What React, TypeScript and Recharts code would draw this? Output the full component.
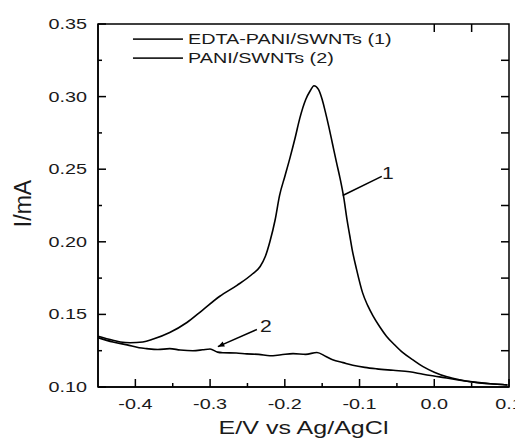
import { LineChart, Line, XAxis, YAxis, ReferenceLine, ReferenceDot, ReferenceArea } from "recharts";

// curve 1: EDTA-PANI/SWNTs
const E1 = [-0.45, -0.43, -0.42, -0.407, -0.39, -0.376, -0.354, -0.331, -0.31, -0.287, -0.264, -0.243, -0.233, -0.226, -0.22, -0.213, -0.207, -0.2, -0.193, -0.186, -0.18, -0.172, -0.166, -0.161, -0.155, -0.15, -0.146, -0.141, -0.136, -0.131, -0.126, -0.121, -0.117, -0.113, -0.11, -0.104, -0.096, -0.089, -0.082, -0.073, -0.064, -0.053, -0.042, -0.028, -0.015, 0.0, 0.017, 0.034, 0.051, 0.075, 0.098];
const I1 = [0.135, 0.1322, 0.131, 0.1305, 0.131, 0.133, 0.1375, 0.1444, 0.153, 0.1625, 0.17, 0.178, 0.183, 0.19, 0.2, 0.215, 0.232, 0.245, 0.258, 0.272, 0.285, 0.298, 0.304, 0.3075, 0.305, 0.298, 0.29, 0.279, 0.267, 0.255, 0.2435, 0.23, 0.216, 0.204, 0.195, 0.181, 0.165, 0.156, 0.149, 0.1415, 0.135, 0.129, 0.1236, 0.1185, 0.114, 0.1102, 0.107, 0.105, 0.1035, 0.1022, 0.1014];

// curve 2: PANI/SWNTs
const E2 = [-0.45, -0.43, -0.411, -0.395, -0.385, -0.37, -0.354, -0.34, -0.323, -0.31, -0.3, -0.29, -0.283, -0.265, -0.251, -0.235, -0.22, -0.205, -0.189, -0.172, -0.157, -0.145, -0.136, -0.122, -0.109, -0.093, -0.077, -0.055, -0.033, -0.015, 0.007, 0.03, 0.051, 0.075, 0.098];
const I2 = [0.134, 0.131, 0.129, 0.127, 0.1264, 0.1258, 0.1264, 0.1255, 0.125, 0.1256, 0.1262, 0.124, 0.1236, 0.1234, 0.1228, 0.1225, 0.1215, 0.1222, 0.123, 0.1225, 0.1238, 0.121, 0.1188, 0.1168, 0.115, 0.1135, 0.1125, 0.1115, 0.1105, 0.1088, 0.107, 0.105, 0.1035, 0.1022, 0.1014];

const X_MAJOR = [-0.4, -0.3, -0.2, -0.1, 0.0, 0.1];
const X_MINOR = [-0.35, -0.25, -0.15, -0.05, 0.05];
const Y_MAJOR = [0.1, 0.15, 0.2, 0.25, 0.3, 0.35];
const Y_MINOR = [0.125, 0.175, 0.225, 0.275, 0.325];
const Y_RIGHT = [0.125, 0.15, 0.175, 0.2, 0.225, 0.25, 0.275, 0.3, 0.325];
const X_TOP = [0.0, 0.05];

const SERIES = ["EDTA-PANI/SWNTs (1)", "PANI/SWNTs (2)"];

const X_MIN = -0.45, X_MAX = 0.1, Y_MIN = 0.1, Y_MAX = 0.35;

const data1 = E1.map((e, i) => ({ e, i: I1[i] }));
const data2 = E2.map((e, i) => ({ e, i: I2[i] }));

const FONT = '"Liberation Sans", Arial, sans-serif';
const INK = "#1a1a1a";
const SW = 1.5;
const STRETCH = 1.32;

// the source figure's text is stretched sideways
const Txt = ({ x, y, anchor = "start", size = 15, children }: any) => (
  <text
    transform={`translate(${x},${y}) scale(${STRETCH},1)`}
    textAnchor={anchor}
    fontSize={size}
    fontFamily={FONT}
    fill={INK}
  >
    {children}
  </text>
);

const XLabel = ({ x, y, payload }: any) => (
  <Txt x={x} y={y + 22} anchor="middle">{payload.value.toFixed(1)}</Txt>
);

const YLabel = ({ x, y, payload }: any) => (
  <Txt x={x - 11} y={y + 5} anchor="end">{payload.value.toFixed(2)}</Txt>
);

// plot frame as one closed path
const Frame = (p: any) => {
  const { x, y, width, height } = p;
  return (
    <path
      d={`M${x},${y}H${x + width}V${y + height}H${x}Z`}
      fill="none"
      stroke="#000"
      strokeWidth={SW}
    />
  );
};

// tick marks drawn inward from the frame
const tickShape = (side: string, len: number) => (p: any) => {
  const { x1, y1, x2, y2 } = p;
  let d = "";
  if (side === "bottom") {
    const y = Math.max(y1, y2);
    d = `M${x1},${y}V${y - len}`;
  } else if (side === "top") {
    const y = Math.min(y1, y2);
    d = `M${x1},${y}V${y + len}`;
  } else if (side === "left") {
    const x = Math.min(x1, x2);
    d = `M${x},${y1}H${x + len}`;
  } else {
    const x = Math.max(x1, x2);
    d = `M${x},${y1}H${x - len}`;
  }
  return <path d={d} stroke="#000" strokeWidth={SW} fill="none" />;
};

const Pointer = (head: boolean) => (p: any) => {
  const { x1, y1, x2, y2 } = p;
  const a = Math.atan2(y2 - y1, x2 - x1);
  const L = 7;
  return (
    <g>
      <line x1={x1} y1={y1} x2={x2} y2={y2} stroke="#000" strokeWidth={1.5} />
      {head && (
        <polygon
          points={`${x2},${y2} ${x2 - L * Math.cos(a - 0.4)},${y2 - L * Math.sin(a - 0.4)} ${x2 - L * Math.cos(a + 0.4)},${y2 - L * Math.sin(a + 0.4)}`}
          fill="#000"
        />
      )}
    </g>
  );
};

const Tag = (t: string) => (p: any) => <Txt x={p.cx} y={p.cy + 6} anchor="middle" size={16}>{t}</Txt>;

const LegendBox = (p: any) => (
  <g>
    {SERIES.map((s, k) => (
      <g key={s}>
        <rect x={p.cx} y={p.cy + k * 19 - 0.75} width={50} height={1.5} fill="#000" />
        <Txt x={p.cx + 55} y={p.cy + k * 19 + 5}>{s}</Txt>
      </g>
    ))}
  </g>
);

export default function App() {
  return (
    <LineChart width={515} height={434} margin={{ top: 16, right: 14, bottom: 0, left: 0 }}>
      <XAxis
        dataKey="e"
        type="number"
        domain={[X_MIN, X_MAX]}
        ticks={X_MAJOR}
        interval={0}
        height={55}
        tickSize={0}
        tickMargin={0}
        tickLine={false}
        axisLine={{ stroke: "#000", strokeWidth: SW }}
        tick={<XLabel />}
        label={{
          content: (p: any) => (
            <Txt x={p.viewBox.x + p.viewBox.width / 2} y={p.viewBox.y + 47} anchor="middle" size={19}>
              E/V vs Ag/AgCl
            </Txt>
          ),
        }}
      />
      <YAxis
        type="number"
        domain={[Y_MIN, Y_MAX]}
        ticks={Y_MAJOR}
        interval={0}
        width={90}
        tickSize={0}
        tickMargin={0}
        tickLine={false}
        axisLine={{ stroke: "#000", strokeWidth: SW }}
        tick={<YLabel />}
        label={{
          content: (p: any) => {
            const cx = p.viewBox.x + 15;
            const cy = p.viewBox.y + p.viewBox.height / 2 - 2;
            return (
              <text
                x={cx}
                y={cy}
                textAnchor="middle"
                dominantBaseline="central"
                transform={`rotate(-90 ${cx} ${cy})`}
                fontSize={23}
                fontFamily={FONT}
                fill={INK}
              >
                I/mA
              </text>
            );
          },
        }}
      />
      <Line data={data1} dataKey="i" stroke="#000" strokeWidth={1.6} dot={false} type="monotone" isAnimationActive={false} />
      <Line data={data2} dataKey="i" stroke="#000" strokeWidth={1.6} dot={false} type="monotone" isAnimationActive={false} />

      {/* frame */}
      <ReferenceArea x1={X_MIN} x2={X_MAX} y1={Y_MIN} y2={Y_MAX} ifOverflow="visible" shape={Frame} />

      {/* ticks */}
      {X_MAJOR.map((v) => (
        <ReferenceLine key={`bM${v}`} ifOverflow="visible" segment={[{ x: v, y: Y_MIN }, { x: v, y: Y_MIN + 0.01 }]} shape={tickShape("bottom", 8)} />
      ))}
      {X_MINOR.map((v) => (
        <ReferenceLine key={`bm${v}`} ifOverflow="visible" segment={[{ x: v, y: Y_MIN }, { x: v, y: Y_MIN + 0.01 }]} shape={tickShape("bottom", 4)} />
      ))}
      {X_TOP.map((v) => (
        <ReferenceLine key={`t${v}`} ifOverflow="visible" segment={[{ x: v, y: Y_MAX }, { x: v, y: Y_MAX - 0.01 }]} shape={tickShape("top", 8)} />
      ))}
      {Y_MAJOR.map((v) => (
        <ReferenceLine key={`lM${v}`} ifOverflow="visible" segment={[{ x: X_MIN, y: v }, { x: X_MIN + 0.01, y: v }]} shape={tickShape("left", 8)} />
      ))}
      {Y_MINOR.map((v) => (
        <ReferenceLine key={`lm${v}`} ifOverflow="visible" segment={[{ x: X_MIN, y: v }, { x: X_MIN + 0.01, y: v }]} shape={tickShape("left", 4)} />
      ))}
      {Y_RIGHT.map((v) => (
        <ReferenceLine key={`r${v}`} ifOverflow="visible" segment={[{ x: X_MAX, y: v }, { x: X_MAX - 0.01, y: v }]} shape={tickShape("right", 8)} />
      ))}

      {/* annotations */}
      <ReferenceLine segment={[{ x: -0.0703, y: 0.2451 }, { x: -0.1225, y: 0.2319 }]} shape={Pointer(false)} />
      <ReferenceLine segment={[{ x: -0.2374, y: 0.1396 }, { x: -0.2896, y: 0.1278 }]} shape={Pointer(true)} />
      <ReferenceDot x={-0.062} y={0.2475} r={0} shape={Tag("1")} />
      <ReferenceDot x={-0.2254} y={0.1417} r={0} shape={Tag("2")} />

      {/* legend */}
      <ReferenceDot x={-0.4032} y={0.3396} r={0} shape={LegendBox} />
    </LineChart>
  );
}
